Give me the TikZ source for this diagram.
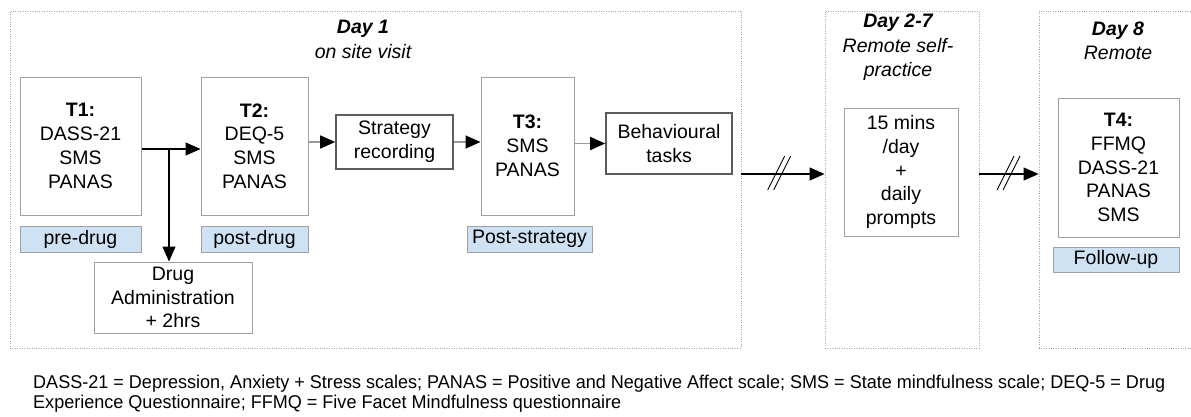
\documentclass[tikz,border=0pt]{standalone}
\usepackage{fontspec}
\setmainfont{Liberation Sans}
\usetikzlibrary{arrows.meta}
\definecolor{frameg}{HTML}{A8A8A8}
\definecolor{boxg}{HTML}{A0A0A0}
\definecolor{darkg}{HTML}{5C5C5C}
\definecolor{lineg}{HTML}{9A9A9A}
\definecolor{lblue}{HTML}{CFE2F3}
\newcommand\boxfont{\fontsize{19.5}{23.8}\selectfont}
\newcommand\notefont{\fontsize{18.5}{20}\selectfont}
\newcommand\noteA{DASS-21 = Depression, Anxiety + Stress scales; PANAS = Positive and Negative Affect scale; SMS = State mindfulness scale; DEQ-5 = Drug}
\newcommand\noteB{Experience Questionnaire; FFMQ = Five Facet Mindfulness questionnaire}
\newlength\noteW
\tikzset{
  frame/.style={draw=frameg, line width=0.8pt, dash pattern=on 0.8pt off 1.6pt, inner sep=0pt},
  tbox/.style={draw=boxg, line width=1pt, fill=white, align=center, inner sep=0pt, font=\boxfont},
  sbox/.style={tbox, draw=darkg, line width=1.6pt},
  tag/.style={draw=boxg, line width=1pt, fill=lblue, inner sep=0pt, font=\boxfont},
  title/.style={align=center, inner sep=0pt, font=\itshape\fontsize{19.5}{24.5}\selectfont},
  tip/.style={-{Triangle[length=15pt,width=13pt,color=black]}},
  link/.style={tip, line width=1.1pt, draw=black},
  glink/.style={tip, line width=1.6pt, draw=lineg},
  brk/.style={line width=0.9pt, draw=black},
}
\begin{document}
\settowidth\noteW{\notefont\noteA}
\pgfmathsetmacro\noteS{1132pt/\noteW}
\begin{tikzpicture}[x=1pt, y=-1pt]
\useasboundingbox (0,0) rectangle (1191,416);

% phase frames
\begin{scope}
\clip (0,0) rectangle (1191,416);
\node[frame, minimum width=731pt, minimum height=337pt] (d1) at (375.5,179.5) {};
\node[frame, minimum width=154pt, minimum height=337pt] (d27) at (902,179.5) {};
\node[frame, minimum width=170pt, minimum height=337pt] (d8) at (1124,179.5) {};
\end{scope}

% phase titles
\node[title] (t1) at (363,39.5) {\textbf{Day 1}\\on site visit};
\node[title] (t27) at (898,47.5) {\textbf{Day 2-7}\\Remote self-\\practice};
\node[title] (t8) at (1118,41) {\textbf{Day 8}\\Remote};

% day 1 boxes
\node[tbox, minimum width=121pt, minimum height=138pt] (T1) at (80.5,146) {\textbf{T1:}\\DASS-21\\SMS\\PANAS};
\node[tag, minimum width=121pt, minimum height=26pt] (pre) at (80.5,239) {pre-drug};
\node[tbox, minimum width=107pt, minimum height=138pt] (T2) at (254.5,146) {\textbf{T2:}\\DEQ-5\\SMS\\PANAS};
\node[tag, minimum width=107pt, minimum height=26pt] (post) at (254.5,239) {post-drug};
\node[tbox, minimum width=158pt, minimum height=71pt] (drug) at (173,297.5) {Drug\\Administration\\+ 2hrs};
\node[sbox, minimum width=117pt, minimum height=54pt] (strat) at (394.5,142) {Strategy\\recording};
\node[tbox, minimum width=93pt, minimum height=138pt] (T3) at (527.5,146) {\textbf{T3:}\\SMS\\PANAS};
\node[tag, minimum width=125pt, minimum height=26pt] (poststrat) at (529.5,239) {Post-strategy};
\node[sbox, minimum width=126pt, minimum height=61pt] (behav) at (669,143.5) {Behavioural\\tasks};

% day 2-7 and day 8 boxes
\node[tbox, minimum width=114pt, minimum height=128pt] (prac) at (901,172) {15 mins\\/day\\+\\daily\\prompts};
\node[tbox, minimum width=121pt, minimum height=139pt] (T4) at (1118.5,167.5) {\textbf{T4:}\\FFMQ\\DASS-21\\PANAS\\SMS};
\node[tag, minimum width=126pt, minimum height=25pt] (follow) at (1116,259.5) {Follow-up};

% connectors
\coordinate (split) at (169,149);
\coordinate (gap) at (0,174);
\draw[link] (T1.east |- split) -- (T2.west |- split);
\draw[link] (split) -- (drug.north -| split);
\draw[glink] (T2.east |- strat) -- (strat.west);
\draw[glink] (strat.east) -- (T3.west |- strat);
\draw[glink] (T3.east |- behav) -- (behav.west);
\draw[link] (d1.east |- gap) -- coordinate[pos=0.46] (b1) (d27.west |- gap);
\draw[link] (d27.east |- gap) -- coordinate[pos=0.5] (b2) (d8.west |- gap);

% break marks on the long connectors
\foreach \b in {b1,b2} {
  \draw[brk] ([shift={(-12,16)}]\b) -- ([shift={(5,-18)}]\b);
  \draw[brk] ([shift={(-6,16)}]\b) -- ([shift={(11,-18)}]\b);
}

% abbreviations
\node[anchor=base west, inner sep=0pt, font=\notefont] (n1) at (33,388) {\scalebox{\noteS}[1]{\noteA}};
\node[anchor=base west, inner sep=0pt, font=\notefont] (n2) at (33,408) {\scalebox{\noteS}[1]{\noteB}};
\end{tikzpicture}
\end{document}
